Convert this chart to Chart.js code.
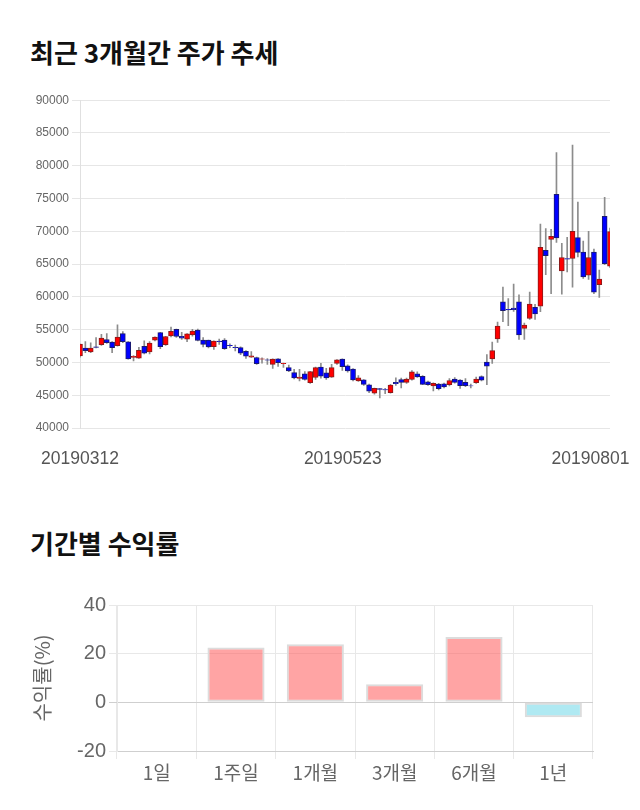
<!DOCTYPE html>
<html>
<head>
<meta charset="utf-8">
<script src="https://cdn.jsdelivr.net/npm/chart.js@4/dist/chart.umd.min.js"></script>
<style>
html,body{margin:0;padding:0;background:#fff;width:640px;height:810px;overflow:hidden;}
.title{position:absolute;left:30px;margin:0;font-family:"Noto Sans CJK KR","Noto Sans",sans-serif;font-weight:bold;font-size:26px;line-height:30px;color:#111;}
#t1{top:37px;}
#t2{top:528px;}
#w1{position:absolute;left:0;top:90px;width:640px;height:390px;}
#w2{position:absolute;left:0;top:585px;width:640px;height:215px;}
</style>
</head>
<body>
<div class="title" id="t1">최근 3개월간 주가 추세</div>
<div id="w1"><canvas id="c1" width="640" height="390"></canvas></div>
<div class="title" id="t2">기간별 수익률</div>
<div id="w2"><canvas id="c2" width="640" height="215"></canvas></div>
<script>
const dates = [
'20190312','20190313','20190314','20190315','20190318','20190319','20190320','20190321','20190322','20190325','20190326','20190327','20190328','20190329',
'20190401','20190402','20190403','20190404','20190405','20190408','20190409','20190410','20190411','20190412','20190415','20190416','20190417','20190418','20190419','20190422','20190423','20190424','20190425','20190426','20190429','20190430',
'20190502','20190503','20190507','20190508','20190509','20190510','20190513','20190514','20190515','20190516','20190517','20190520','20190521','20190522','20190523','20190524','20190527','20190528','20190529','20190530','20190531',
'20190603','20190604','20190605','20190607','20190610','20190611','20190612','20190613','20190614','20190617','20190618','20190619','20190620','20190621','20190624','20190625','20190626','20190627','20190628',
'20190701','20190702','20190703','20190704','20190705','20190708','20190709','20190710','20190711','20190712','20190715','20190716','20190717','20190718','20190719','20190722','20190723','20190724','20190725','20190726','20190729','20190730','20190731',
'20190801'];
const openP = [51000,52200,51600,52400,52700,53500,53100,52550,54400,53150,50750,50650,52450,51600,53400,54550,52700,54050,55050,54000,
53550,54200,54950,53400,53400,52400,53250,53400,52600,52300,52250,51700,50800,50750,50500,50400,49700,50550,49800,49200,
48450,47550,48250,46900,47700,49300,48400,47750,49850,50500,49500,49000,47200,47350,46600,45300,46000,45850,45400,46950,
47400,46950,47400,48250,47900,47050,46400,46700,46750,46600,47450,47300,46950,46450,46900,47850,50050,50550,53600,59250,
58100,58300,59250,55200,56700,58400,58600,67100,68750,75650,63950,65850,65850,69050,66850,63300,66850,61850,72300,64700];
const highP = [52800,53200,53000,53800,54300,54400,53200,55750,54700,53200,51050,52300,53300,53200,53900,54600,54000,55400,55100,54600,
54400,55050,55100,53800,53400,53300,53550,53650,52850,52650,52400,51800,51650,50800,50700,50600,50550,50600,49900,49600,
48950,48950,48600,48650,49300,49850,49100,49700,50450,50550,49650,49050,48000,47400,46700,46100,46050,46050,46650,47650,
47600,47600,48750,48550,48000,47150,46900,46800,46850,47550,47700,47400,47550,46700,47750,47950,51200,53100,56150,61500,
59750,61950,60300,56000,60750,58850,71100,70400,70300,82000,68150,69100,83150,74450,68500,70000,67300,64100,75200,70500];
const lowP = [50800,51500,51500,52200,52600,52900,51500,52500,53000,50500,50250,50600,51300,51300,53300,52100,52600,53900,53800,53500,
53150,54000,53300,52350,52200,52000,52750,52000,52250,51750,51200,50600,50750,49700,49900,49700,49100,49400,49250,48600,
47500,47200,47300,46800,47400,47600,47400,47700,49700,48800,48500,47200,47100,46500,45400,45150,44600,45250,45300,46500,
46100,46800,47300,47700,46600,46500,45650,45800,46100,46400,46850,46050,46300,46100,46800,47200,46600,49850,53050,56200,
55600,57800,53500,53500,56550,56550,57750,63400,60500,68300,60400,63800,61500,66100,62800,62650,60500,59900,64900,64500];
const closeP = [52800,51800,52200,52300,53700,53000,52250,53850,53150,50550,50950,51850,51400,52950,53850,52400,53950,54750,53950,53700,
54350,54800,53350,52750,52350,53250,53150,52100,52550,52250,51400,50950,51000,49800,50550,50350,50500,49950,49850,48700,
47650,47750,47400,48600,49200,47900,47650,49200,50400,49350,48700,47350,47650,46650,45600,46050,45900,45800,46550,46750,
46950,47450,48550,47800,46650,46600,46800,46000,46250,47250,46950,46450,46450,46400,47450,47300,49450,51800,55550,57900,
58000,58050,54200,55700,58900,57400,67550,66300,69250,69000,66000,65750,70000,66800,63050,66000,60700,62700,65050,69950];
const shownDates = ['20190312','20190523','20190801'];
const priceMin = 40000, priceMax = 90000, priceStep = 5000;

const periods = ['1일','1주일','1개월','3개월','6개월','1년'];
const returns = [0, 22.5, 23.9, 7.4, 26.9, -6.1];
const returnMin = -20, returnMax = 40, returnStep = 20;

const numFont = '"Liberation Sans", Arial, sans-serif';
const krFont = '"Noto Sans CJK KR", "Noto Sans", sans-serif';

const bodies = dates.map((d, i) => [openP[i], closeP[i]]);
const wicks = dates.map((d, i) => [lowP[i], highP[i]]);
const bodyFill = dates.map((d, i) => closeP[i] >= openP[i] ? '#ff0000' : '#0000ff');
const bodyBorder = dates.map((d, i) => closeP[i] >= openP[i] ? '#8a1a1a' : '#1a1a70');

// trailing spaces nudge the centred date text left so it stays inside the page
const labelNudge = [0, 2, 8];
function dateLabel(i) {
  const k = shownDates.indexOf(dates[i]);
  return k < 0 ? '' : dates[i] + ' '.repeat(labelNudge[k]);
}

new Chart(document.getElementById('c1'), {
  type: 'bar',
  data: {
    labels: dates,
    datasets: [
      {data: bodies, backgroundColor: bodyFill, borderColor: bodyBorder, borderWidth: 1, borderSkipped: false, barThickness: 5, grouped: false},
      {data: wicks, backgroundColor: '#8c8c8c', borderWidth: 0, barThickness: 1, grouped: false}
    ]
  },
  options: {
    responsive: false, animation: false, events: [],
    layout: {padding: {left: 0, right: 30, top: 10, bottom: 0}},
    plugins: {legend: {display: false}, tooltip: {enabled: false}},
    scales: {
      x: {
        offset: false,
        grid: {display: false, drawTicks: false},
        border: {display: false},
        ticks: {autoSkip: false, maxRotation: 0, minRotation: 0, padding: 21, color: '#555', font: {size: 17.5, family: numFont},
          callback: (v, i) => dateLabel(i)},
        afterFit: s => { s.height = 52; s.paddingLeft = 0; s.paddingRight = 0; }
      },
      y: {
        min: priceMin, max: priceMax,
        ticks: {stepSize: priceStep, color: '#666', font: {size: 12, family: numFont}, callback: v => String(v)},
        grid: {color: '#e6e6e6'},
        border: {color: '#e0e0e0'},
        afterFit: s => { s.width = 80; }
      }
    }
  }
});

new Chart(document.getElementById('c2'), {
  type: 'bar',
  data: {
    labels: periods,
    datasets: [{
      data: returns,
      backgroundColor: returns.map(v => v >= 0 ? 'rgba(255,99,99,0.58)' : 'rgba(110,215,232,0.55)'),
      borderColor: '#dcdcdc',
      borderWidth: 2,
      borderSkipped: false
    }]
  },
  options: {
    responsive: false, animation: false, events: [],
    layout: {padding: {left: 30, right: 47, top: 20, bottom: 0}},
    plugins: {legend: {display: false}, tooltip: {enabled: false}},
    scales: {
      x: {
        grid: {color: '#e8e8e8', offset: true, tickLength: 8},
        border: {color: '#cfcfcf'},
        ticks: {color: '#666', font: {size: 19, family: krFont}, padding: 2},
        afterFit: s => { s.height = 49; }
      },
      y: {
        min: returnMin, max: returnMax,
        ticks: {stepSize: returnStep, color: '#666', font: {size: 20, family: numFont}},
        title: {display: true, text: '수익률(%)', color: '#666', font: {size: 20, family: krFont}, padding: 0},
        grid: {color: ctx => ctx.tick && ctx.tick.value === 0 ? '#cfcfcf' : '#e8e8e8'},
        border: {color: '#e8e8e8'},
        afterFit: s => { s.width = 87; }
      }
    }
  }
});
</script>
</body>
</html>
